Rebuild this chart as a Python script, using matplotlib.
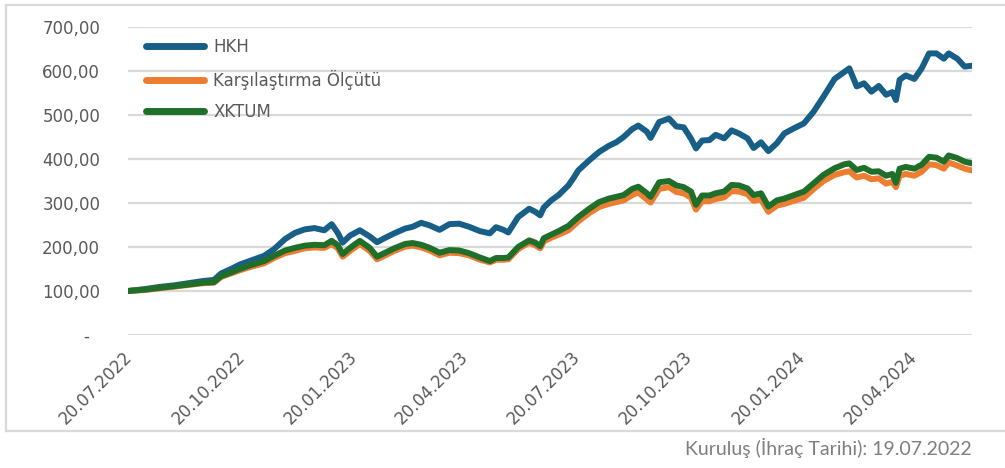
import pandas as pd
import matplotlib.pyplot as plt
import matplotlib.dates as mdates
from matplotlib.lines import Line2D

# değerler grafikten okunarak tahmin edildi
dates = [
    "19.07.2022", "01.08.2022", "13.08.2022", "26.08.2022", "07.09.2022", "19.09.2022",
    "27.09.2022", "03.10.2022", "11.10.2022", "18.10.2022", "26.10.2022", "07.11.2022",
    "15.11.2022", "24.11.2022", "02.12.2022", "10.12.2022", "18.12.2022", "26.12.2022",
    "01.01.2023", "06.01.2023", "10.01.2023", "16.01.2023", "24.01.2023", "01.02.2023",
    "07.02.2023", "13.02.2023", "21.02.2023", "02.03.2023", "08.03.2023", "15.03.2023",
    "22.03.2023", "30.03.2023", "07.04.2023", "15.04.2023", "23.04.2023", "02.05.2023",
    "10.05.2023", "15.05.2023", "21.05.2023", "25.05.2023", "02.06.2023", "11.06.2023",
    "16.06.2023", "20.06.2023", "23.06.2023", "29.06.2023", "05.07.2023", "13.07.2023",
    "17.07.2023", "21.07.2023", "30.07.2023", "07.08.2023", "15.08.2023", "21.08.2023",
    "27.08.2023", "03.09.2023", "08.09.2023", "15.09.2023", "18.09.2023", "25.09.2023",
    "03.10.2023", "09.10.2023", "15.10.2023", "21.10.2023", "25.10.2023", "30.10.2023",
    "05.11.2023", "10.11.2023", "17.11.2023", "23.11.2023", "29.11.2023", "06.12.2023",
    "11.12.2023", "17.12.2023", "23.12.2023", "30.12.2023", "05.01.2024", "13.01.2024",
    "21.01.2024", "29.01.2024", "06.02.2024", "15.02.2024", "23.02.2024", "27.02.2024",
    "04.03.2024", "10.03.2024", "16.03.2024", "22.03.2024", "28.03.2024", "02.04.2024",
    "05.04.2024", "08.04.2024", "13.04.2024", "20.04.2024", "26.04.2024", "02.05.2024",
    "08.05.2024", "14.05.2024", "18.05.2024", "25.05.2024", "31.05.2024", "06.06.2024",
]
hkh = [
    100, 104, 109, 113, 118, 123, 125, 140, 150, 160, 168, 180,
    195, 218, 232, 240, 243, 238, 252, 232, 210, 226, 238, 224,
    211, 220, 231, 242, 246, 255, 249, 239, 252, 253, 246, 236,
    231, 245, 239, 233, 268, 287, 280, 272, 290, 306, 318, 340,
    356, 374, 397, 416, 430, 438, 450, 468, 476, 462, 448, 484,
    492, 474, 472, 446, 424, 442, 443, 455, 447, 465, 458, 447,
    425, 438, 418, 436, 458, 470, 481, 508, 542, 582, 598, 606,
    565, 572, 553, 566, 546, 552, 534, 580, 590, 582, 606, 640,
    640, 628, 640, 628, 610, 612,
]
karsilastirma = [
    100, 102, 106, 110, 114, 118, 119, 132, 140, 147, 154, 163,
    175, 186, 191, 197, 199, 198, 207, 197, 178, 191, 207, 191,
    172, 180, 191, 201, 203, 199, 192, 181, 187, 186, 181, 171,
    165, 171, 171, 172, 195, 210, 204, 197, 213, 221, 228, 238,
    248, 258, 277, 291, 298, 302, 306, 318, 324, 308, 301, 332,
    336, 325, 322, 312, 285, 304, 304, 309, 313, 327, 326, 320,
    305, 308, 280, 294, 298, 305, 312, 332, 350, 364, 370, 372,
    358, 362, 354, 356, 344, 348, 336, 362, 366, 362, 371, 388,
    386, 378, 392, 385, 378, 374,
]
xktum = [
    100, 103, 107, 111, 115, 119, 120, 134, 142, 150, 158, 168,
    180, 192, 198, 203, 205, 204, 214, 204, 184, 198, 214, 198,
    178, 186, 197, 207, 209, 205, 198, 187, 193, 192, 186, 176,
    168, 175, 175, 176, 200, 215, 210, 202, 220, 228, 236, 248,
    258, 268, 287, 302, 310, 314, 318, 332, 337, 322, 314, 347,
    350, 340, 336, 326, 296, 317, 317, 322, 326, 341, 340, 333,
    318, 322, 292, 306, 310, 318, 326, 345, 364, 379, 388, 390,
    375, 380, 371, 372, 362, 366, 346, 378, 382, 378, 387, 405,
    403, 394, 408, 402, 394, 390,
]
tick_dates = ["20.07.2022", "20.10.2022", "20.01.2023", "20.04.2023",
              "20.07.2023", "20.10.2023", "20.01.2024", "20.04.2024"]
y_ticks = [0, 100, 200, 300, 400, 500, 600, 700]

plt.rcParams["font.family"] = ["DejaVu Sans"]
text_color = "#595959"
grid_color = "#d9d9d9"

x = pd.to_datetime(dates, format="%d.%m.%Y")
xt = pd.to_datetime(tick_dates, format="%d.%m.%Y")

fig = plt.figure(figsize=(10.05, 4.68), dpi=100)
ax = fig.add_axes([128 / 1005, 1 - 335 / 468, (972 - 128) / 1005, (335 - 27) / 468])

lw = 4.3
ax.plot(x, hkh, color="#175f86", lw=lw, solid_capstyle="round", solid_joinstyle="round", label="HKH", zorder=3)
ax.plot(x, karsilastirma, color="#ed7d31", lw=lw, solid_capstyle="round", solid_joinstyle="round",
        label="Karşılaştırma Ölçütü", zorder=4)
ax.plot(x, xktum, color="#1f6e2a", lw=lw, solid_capstyle="round", solid_joinstyle="round", label="XKTUM", zorder=5)

ax.set_xlim(x[0], x[-1])
ax.set_ylim(0, 700)
ax.set_yticks(y_ticks)
ax.set_yticklabels(["-  "] + [f"{v},00" for v in y_ticks[1:]])
ax.set_xticks(xt)
ax.xaxis.set_major_formatter(mdates.DateFormatter("%d.%m.%Y"))
ax.tick_params(axis="y", length=0, pad=20, labelsize=12, labelcolor=text_color)
ax.tick_params(axis="x", length=0, pad=14, labelsize=12, labelcolor=text_color)
for lab in ax.get_xticklabels():
    lab.set_rotation(45)
    lab.set_ha("right")
    lab.set_va("center")
    lab.set_rotation_mode("anchor")

ax.grid(axis="y", color=grid_color, lw=1.6)
ax.set_axisbelow(True)
for s in ax.spines.values():
    s.set_visible(False)

leg = ax.legend(loc="upper left", bbox_to_anchor=(0.003, 1.012), frameon=False, fontsize=12,
                handlelength=3.5, handletextpad=0.55, labelspacing=0.8, labelcolor=text_color)
for h in leg.get_lines():
    h.set_linewidth(5)
    h.set_solid_capstyle("round")

# çerçeve
for xs, ys in [((6, 6), (5, 431)), ((6, 1010), (5, 5)), ((6, 1010), (431, 431))]:
    fig.add_artist(Line2D([v / 1005 for v in xs], [1 - v / 468 for v in ys], color=grid_color, lw=1.6))

fig.text(972 / 1005, 1 - 448 / 468, "Kuruluş (İhraç Tarihi): 19.07.2022", ha="right", va="center",
         fontsize=14, color="#7f7f7f", family=["Lato", "DejaVu Sans"])

plt.savefig("out.png", dpi=100)
